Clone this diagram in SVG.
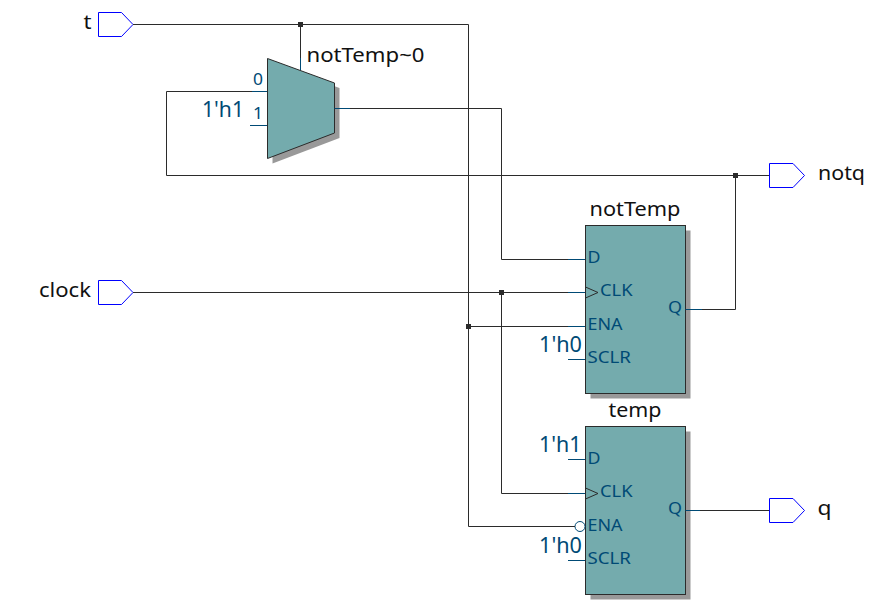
<svg xmlns="http://www.w3.org/2000/svg" width="895" height="605" viewBox="0 0 895 605">
<style>
text{font-family:"Noto Sans","Open Sans",sans-serif}
.w{fill:none;stroke:#2b2b2b;stroke-width:1}
.b{fill:none;stroke:#004a75;stroke-width:1}
.pin{fill:#fff;stroke:#0000ff;stroke-width:1}
.sh{fill:#999}
.body{fill:#74abad;stroke:#2b2b2b;stroke-width:1}
.name{font-size:20.5px;fill:#111}
.port{font-size:16px;fill:#004a75}
.const{font-size:21px;fill:#004a75}
.j{fill:#2b2b2b}
</style>
<rect width="895" height="605" fill="#fff"/>
<g id="t"><path class="pin" d="M98.500 12.500H121.500L133 24.500L121.500 36.500H98.500Z"/><text class="name" x="83.500" y="29" textLength="8" lengthAdjust="spacingAndGlyphs">t</text></g>
<g id="clock"><path class="pin" d="M98.500 280.500H121.500L133 292.500L121.500 304.500H98.500Z"/><text class="name" x="39" y="297" textLength="52" lengthAdjust="spacingAndGlyphs">clock</text></g>
<g id="notq"><path class="pin" d="M769.500 163.500H793L804.500 175.500L793 187.500H769.500Z" /><text class="name" x="818" y="180" textLength="47" lengthAdjust="spacingAndGlyphs">notq</text></g>
<g id="q"><path class="pin" d="M769.500 498.500H793L804.500 510.500L793 522.500H769.500Z"/><text class="name" x="817.500" y="515" textLength="14" lengthAdjust="spacingAndGlyphs">q</text></g>
<g id="notTemp0">
<path class="sh" d="M272.500 63.500L339.500 88V138L272.500 163.500Z"/>
<path class="body" d="M267.500 58.500L334.500 83V133L267.500 158.500Z"/>
<text class="name" x="306.500" y="62" textLength="118" lengthAdjust="spacingAndGlyphs">notTemp~0</text>
<text class="port" x="253" y="85" textLength="10" lengthAdjust="spacingAndGlyphs">0</text>
<text class="port" x="253" y="119" textLength="10" lengthAdjust="spacingAndGlyphs">1</text>
<text class="const" x="202" y="117" textLength="42" lengthAdjust="spacingAndGlyphs">1'h1</text>
</g>
<g id="notTemp">
<rect class="sh" x="590.500" y="230.500" width="100" height="168"/>
<rect class="body" x="585.500" y="225.500" width="100" height="168"/>
<path d="M585.500 287L598 292.500L585.500 298" fill="none" stroke="#2b2b2b"/>
<text class="name" x="589.500" y="216" textLength="91" lengthAdjust="spacingAndGlyphs">notTemp</text>
<text class="port" x="587.500" y="263" textLength="13" lengthAdjust="spacingAndGlyphs">D</text>
<text class="port" x="600" y="296" textLength="32.500" lengthAdjust="spacingAndGlyphs">CLK</text>
<text class="port" x="587.500" y="330" textLength="35" lengthAdjust="spacingAndGlyphs">ENA</text>
<text class="port" x="587.500" y="363" textLength="43.500" lengthAdjust="spacingAndGlyphs">SCLR</text>
<text class="port" x="668" y="313" textLength="14" lengthAdjust="spacingAndGlyphs">Q</text>
<text class="const" x="539" y="352" textLength="43" lengthAdjust="spacingAndGlyphs">1'h0</text>
</g>
<g id="temp">
<rect class="sh" x="590.500" y="431.500" width="100" height="168"/>
<rect class="body" x="585.500" y="426.500" width="100" height="168"/>
<path d="M585.500 488L598 493.500L585.500 499" fill="none" stroke="#2b2b2b"/>
<circle cx="580" cy="526.500" r="5" fill="#fff" stroke="#004a75"/>
<text class="name" x="608.500" y="417" textLength="53" lengthAdjust="spacingAndGlyphs">temp</text>
<text class="port" x="587.500" y="464" textLength="13" lengthAdjust="spacingAndGlyphs">D</text>
<text class="port" x="600" y="497" textLength="32.500" lengthAdjust="spacingAndGlyphs">CLK</text>
<text class="port" x="587.500" y="531" textLength="35" lengthAdjust="spacingAndGlyphs">ENA</text>
<text class="port" x="587.500" y="564" textLength="43.500" lengthAdjust="spacingAndGlyphs">SCLR</text>
<text class="port" x="668" y="514" textLength="14" lengthAdjust="spacingAndGlyphs">Q</text>
<text class="const" x="539" y="452" textLength="42.500" lengthAdjust="spacingAndGlyphs">1'h1</text>
<text class="const" x="539" y="553" textLength="43" lengthAdjust="spacingAndGlyphs">1'h0</text>
</g>
<g id="connectors">
<path class="w" d="M133 24.500H468.500V526.500H575"/>
<path class="w" d="M300.500 24.500V70"/>
<path class="w" d="M267 91.500H166.500V175.500H769"/>
<path class="w" d="M334.500 108.500H501.500V259.500H585"/>
<path class="w" d="M133 292.500H585"/>
<path class="w" d="M501.500 292.500V493.500H585"/>
<path class="w" d="M468.500 326.500H585"/>
<path class="w" d="M685.500 309.500H735.500V175.500"/>
<path class="w" d="M685.500 510.500H769"/>
<path class="b" d="M300.500 58V70M252 91.500H267M250 125.500H267M334.500 108.500H350M568 259.500H585M568 292.500H585M568 326.500H585M568 359.500H585M685.500 309.500H702M568 459.500H585M568 493.500H585M568 560.500H585M685.500 510.500H700"/>
<rect class="j" x="298" y="22" width="5" height="5"/>
<rect class="j" x="733" y="173" width="5" height="5"/>
<rect class="j" x="499" y="290" width="5" height="5"/>
<rect class="j" x="466" y="324" width="5" height="5"/>
</g>
</svg>
